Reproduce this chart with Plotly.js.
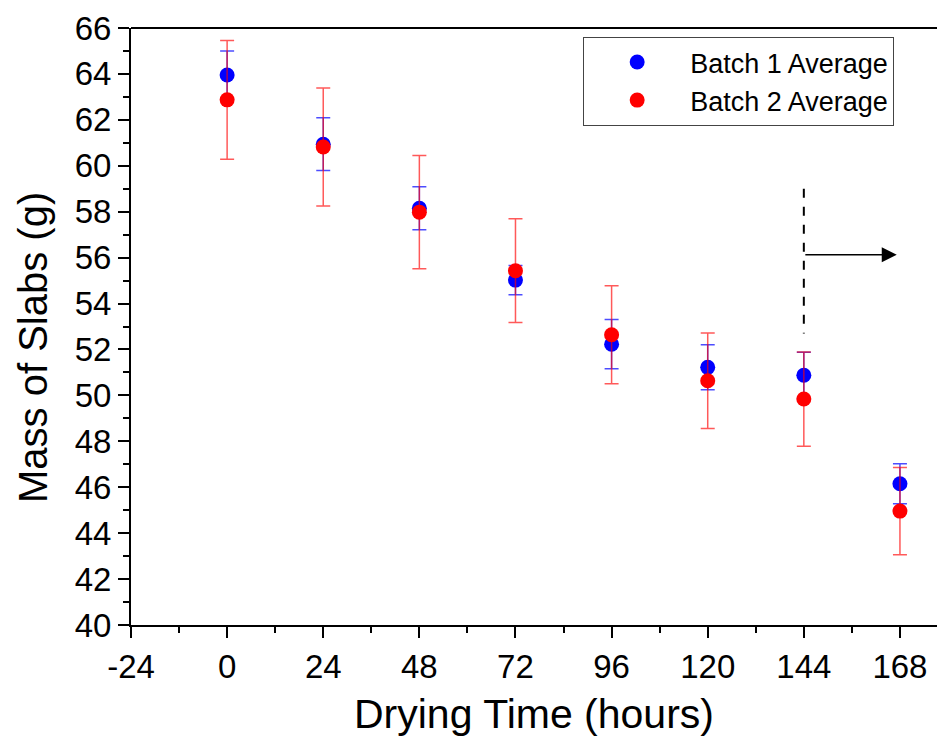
<!DOCTYPE html>
<html>
<head>
<meta charset="utf-8">
<script src="https://cdn.plot.ly/plotly-3.0.1.min.js"></script>
<style>html,body{margin:0;padding:0;background:#fff;}#chart{width:937px;height:740px;}</style>
</head>
<body>
<div id="chart"></div>
<script>
// Data
const hours = [0, 24, 48, 72, 96, 120, 144, 168];
const batch1Mean = [63.95, 60.94, 58.15, 55.02, 52.23, 51.22, 50.88, 46.15];
const batch1Err  = [1.05, 1.15, 0.94, 0.64, 1.07, 0.98, 1.00, 0.87];
const batch2Mean = [62.87, 60.82, 57.98, 55.43, 52.64, 50.64, 49.84, 44.96];
const batch2Err  = [2.59, 2.57, 2.47, 2.26, 2.13, 2.08, 2.05, 1.90];
const seriesNames = ["Batch 1 Average", "Batch 2 Average"];
const xTicks = [-24, 0, 24, 48, 72, 96, 120, 144, 168];
const yTicks = [40, 42, 44, 46, 48, 50, 52, 54, 56, 58, 60, 62, 64, 66];
const xTitle = "Drying Time (hours)";
const yTitle = "Mass of Slabs (g)";
const markerTime = 144;
const dashFrom = 59.0, dashTo = 52.7;
const arrowY = 56.13, arrowEnd = 167.2;

const FONT = "Liberation Sans, Arial, sans-serif";

const traces = [
  {
    x: hours, y: batch1Mean, name: seriesNames[0], type: "scatter", mode: "markers",
    marker: {color: "#0000ff", size: 15},
    error_y: {type: "data", array: batch1Err, visible: true, color: "rgba(0,0,255,0.7)", thickness: 1.5, width: 7}
  },
  {
    x: hours, y: batch2Mean, name: seriesNames[1], type: "scatter", mode: "markers",
    marker: {color: "#ff0000", size: 15},
    error_y: {type: "data", array: batch2Err, visible: true, color: "rgba(255,0,0,0.65)", thickness: 1.5, width: 7}
  }
];

const axisCommon = {
  showline: true, linecolor: "#000", linewidth: 2,
  ticks: "outside", ticklen: 11, tickwidth: 2, tickcolor: "#000",
  showgrid: false, zeroline: false,
  tickfont: {family: FONT, size: 33, color: "#000"}
};

const layout = {
  width: 937, height: 740,
  margin: {l: 131, r: 0, t: 28, b: 115},
  paper_bgcolor: "#fff", plot_bgcolor: "#fff",
  showlegend: true,
  legend: {
    x: 0.561, y: 0.985, xanchor: "left", yanchor: "top",
    bordercolor: "#444", borderwidth: 1, bgcolor: "#fff",
    font: {family: FONT, size: 27, color: "#000"},
    itemwidth: 96
  },
  xaxis: Object.assign({}, axisCommon, {
    range: [-24, 177.25], tickvals: xTicks, ticktext: xTicks.map(String),
    minor: {dtick: 12, tick0: 0, ticks: "outside", ticklen: 6, tickwidth: 2, tickcolor: "#000"},
    title: {text: xTitle, font: {family: FONT, size: 41, color: "#000"}, standoff: 16}
  }),
  yaxis: Object.assign({}, axisCommon, {
    range: [40, 66], tickvals: yTicks, ticktext: yTicks.map(String),
    minor: {dtick: 1, tick0: 0, ticks: "outside", ticklen: 6, tickwidth: 2, tickcolor: "#000"}
  }),
  shapes: [
    {type: "line", xref: "paper", yref: "paper", x0: 0, x1: 1, y0: 1, y1: 1, line: {color: "#000", width: 2}},
    {type: "line", xref: "x", yref: "y", x0: markerTime, x1: markerTime, y0: dashFrom, y1: dashTo,
     line: {color: "#000", width: 2, dash: "dash"}}
  ],
  annotations: [
    {x: arrowEnd, y: arrowY, ax: markerTime, ay: arrowY, xref: "x", yref: "y", axref: "x", ayref: "y",
     text: "", showarrow: true, arrowhead: 2, arrowsize: 2, arrowwidth: 1.5, arrowcolor: "#000", standoff: 0, startstandoff: 0},
    {text: yTitle, xref: "paper", yref: "paper", x: -0.1216, y: 0.4657, xanchor: "center", yanchor: "middle",
     textangle: -90, showarrow: false, font: {family: FONT, size: 40, color: "#000"}}
  ]
};

Plotly.newPlot("chart", traces, layout, {displayModeBar: false, staticPlot: true});
</script>
</body>
</html>
